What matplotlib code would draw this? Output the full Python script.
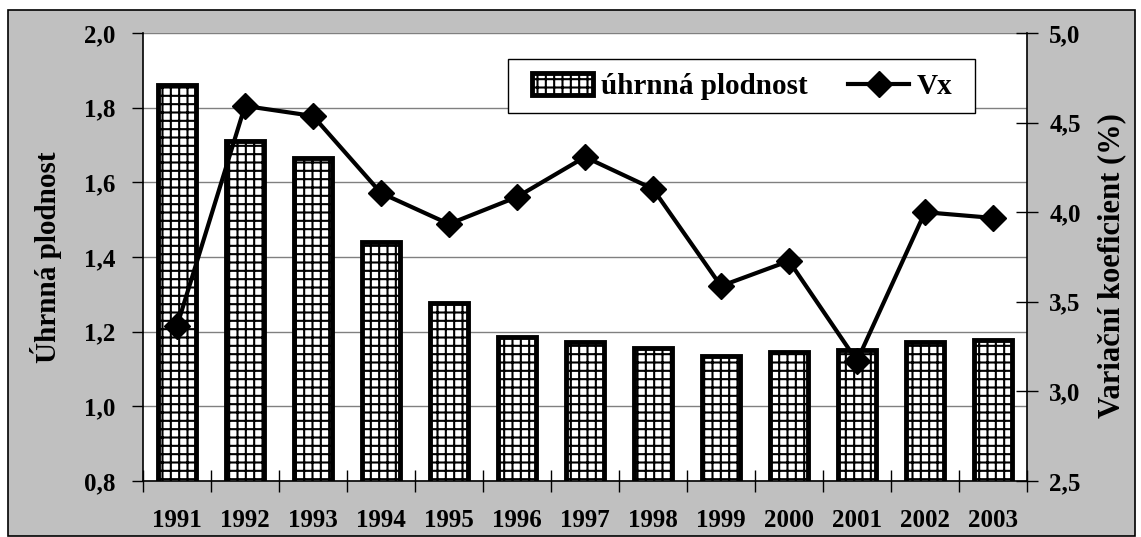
import matplotlib.pyplot as plt
from matplotlib.patches import Rectangle
from matplotlib.lines import Line2D
from matplotlib.patches import Patch

plt.rcParams['font.family'] = ['Liberation Serif', 'DejaVu Serif']
plt.rcParams['font.weight'] = 'bold'
plt.rcParams['hatch.linewidth'] = 1.5

years = ['1991', '1992', '1993', '1994', '1995', '1996', '1997',
         '1998', '1999', '2000', '2001', '2002', '2003']
plodnost = [1.86, 1.71, 1.665, 1.44, 1.277, 1.187, 1.172,
            1.156, 1.134, 1.145, 1.15, 1.172, 1.177]
vx = [3.365, 4.593, 4.537, 4.107, 3.934, 4.085, 4.308,
      4.13, 3.588, 3.728, 3.17, 4.0, 3.968]

W, H = 1141, 537
fig = plt.figure(figsize=(W / 100, H / 100), dpi=100)
fig.patch.set_facecolor('white')

# gray frame behind the plot
fig.patches.append(Rectangle((8 / W, 1 / H), (1135 - 8) / W, (527 - 1) / H,
                             transform=fig.transFigure, facecolor='#c0c0c0',
                             edgecolor='black', linewidth=1.2, zorder=-10))

ax = fig.add_axes([143 / W, (H - 481) / H, (1027 - 143) / W, (481 - 33) / H])
ax.set_facecolor('white')
x = list(range(len(years)))

ax.bar(x, plodnost, width=0.56, bottom=0, color='white', edgecolor='black',
       linewidth=3.5, hatch='++', zorder=2)
ax.set_ylim(0.8, 2.0)
ax.set_xlim(-0.5, len(years) - 0.5)
ax.set_yticks([0.8, 1.0, 1.2, 1.4, 1.6, 1.8, 2.0])
ax.set_yticklabels(['0,8', '1,0', '1,2', '1,4', '1,6', '1,8', '2,0'])
ax.yaxis.grid(True, color='#808080', linewidth=1.0)
ax.set_axisbelow(True)

ax.set_xticks(x)
ax.set_xticklabels(years)
ax.set_xticks([i - 0.5 for i in range(len(years) + 1)], minor=True)
ax.tick_params(axis='x', which='major', length=0, pad=20, labelsize=18)
ax.tick_params(axis='x', which='minor', direction='inout', length=16, width=1)
ax.tick_params(axis='y', direction='out', length=8, width=1, pad=12, labelsize=18)
ax.set_ylabel('Úhrnná plodnost', fontsize=21, fontweight='bold')
ax.yaxis.set_label_coords(-0.092, 0.5)

ax.spines['top'].set_visible(False)
ax.spines['right'].set_visible(False)
ax.spines['left'].set_linewidth(1.2)
ax.spines['bottom'].set_linewidth(1.2)

ax2 = ax.twinx()
ax2.plot(x, vx, color='black', linewidth=3, marker='D', markersize=13, zorder=3)
ax2.set_ylim(2.5, 5.0)
ax2.set_yticks([2.5, 3.0, 3.5, 4.0, 4.5, 5.0])
ax2.set_yticklabels(['2,5', '3,0', '3,5', '4,0', '4,5', '5,0'])
ax2.tick_params(axis='y', direction='inout', length=16, width=1, pad=8, labelsize=18)
ax2.set_ylabel('Variační koeficient (%)', fontsize=22, fontweight='bold')
ax2.yaxis.set_label_coords(1.079, 0.482)
ax2.spines['top'].set_visible(False)
ax2.spines['left'].set_visible(False)
ax2.spines['bottom'].set_visible(False)
ax2.spines['right'].set_linewidth(1.2)

# legend box drawn separately, entries placed inside
ax2.add_patch(Rectangle((0.413, 0.821), 0.5282, 0.122, transform=ax2.transAxes,
                        facecolor='white', edgecolor='black', linewidth=1.0,
                        zorder=4, clip_on=False))
handles = [Patch(facecolor='white', edgecolor='black', linewidth=3.5, hatch='++'),
           Line2D([0], [0], color='black', linewidth=3, marker='D', markersize=13)]
leg = ax2.legend(handles, ['úhrnná plodnost', 'Vx'],
                 bbox_to_anchor=(0.44, 0.880), loc='center left',
                 ncol=2, borderaxespad=0, borderpad=0, frameon=False,
                 prop={'size': 21, 'weight': 'bold'},
                 handlelength=2.1, handleheight=0.8, handletextpad=0.25,
                 columnspacing=1.4)
leg.set_zorder(5)

fig.savefig('out.png', dpi=100)
